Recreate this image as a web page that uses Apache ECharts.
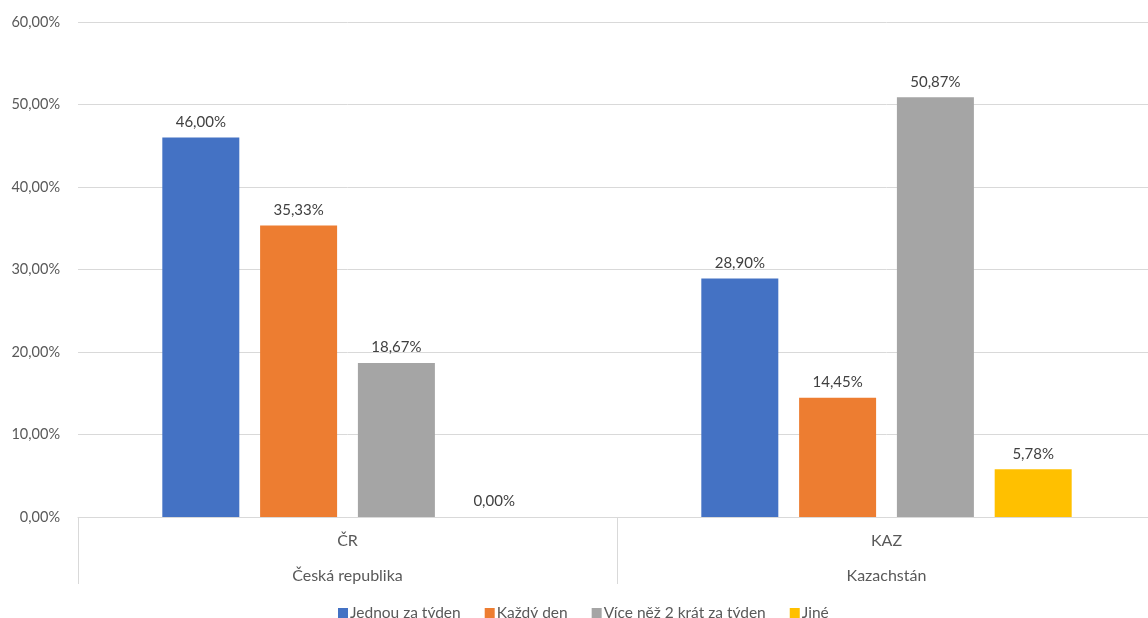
<!DOCTYPE html>
<html><head><meta charset="utf-8">
<script src="https://cdn.jsdelivr.net/npm/echarts@6/dist/echarts.min.js"></script>
<style>html,body{margin:0;padding:0;background:#fff;overflow:hidden}#c{width:1156px;height:618px}</style>
</head><body><div id="c"></div>
<script>
const categories = ['ČR', 'KAZ'];
const groupLabels = ['Česká republika', 'Kazachstán'];
const seriesNames = ['Jednou za týden', 'Každý den', 'Více něž 2 krát za týden', 'Jiné'];
const jednou = [46.00, 28.90];
const kazdy = [35.33, 14.45];
const vice = [18.67, 50.87];
const jine = [0.00, 5.78];
const yTicks = [0, 10, 20, 30, 40, 50, 60];
const colors = ['#4472C4', '#ED7D31', '#A5A5A5', '#FFC000'];
const legendPadRight = [5, 1, 0, 0];

const fmt = v => v.toFixed(2).replace('.', ',') + '%';
const font = 'Lato';
const chart = echarts.init(document.getElementById('c'));
const values = [jednou, kazdy, vice, jine];
chart.setOption({
  animation: false,
  textStyle: { fontFamily: font },
  grid: { left: 78, top: 22, width: 1078, height: 495 },
  legend: {
    top: 600, left: 333, itemWidth: 10, itemHeight: 10, itemGap: 24,
    icon: 'rect',
    textStyle: { color: '#595959', fontSize: 15.5, fontFamily: font, padding: [0, 0, 0, -3] },
    data: seriesNames.map((n, i) => ({ name: n, textStyle: { padding: [0, legendPadRight[i], 0, -3] } }))
  },
  xAxis: {
    type: 'category', data: categories,
    axisLine: { lineStyle: { color: '#d9d9d9' } },
    axisTick: { show: true, length: 67, lineStyle: { color: '#d9d9d9' } },
    axisLabel: {
      color: '#595959', fontSize: 16, margin: 6, lineHeight: 35,
      formatter: (v, i) => v + '\n' + groupLabels[i]
    }
  },
  yAxis: {
    type: 'value', min: yTicks[0], max: yTicks[yTicks.length - 1], interval: 10,
    axisLine: { show: false }, axisTick: { show: false },
    splitLine: { lineStyle: { color: '#d9d9d9' } },
    axisLabel: { color: '#595959', fontSize: 14.5, margin: 18, formatter: v => fmt(v) }
  },
  series: seriesNames.map((n, i) => ({
    name: n, type: 'bar', data: values[i],
    barWidth: 77, barGap: '27%', barCategoryGap: '31%',
    itemStyle: { color: colors[i] },
    label: { show: true, position: 'top', distance: 8, color: '#404040', fontSize: 15, formatter: p => fmt(p.value) }
  }))
});
</script></body></html>
